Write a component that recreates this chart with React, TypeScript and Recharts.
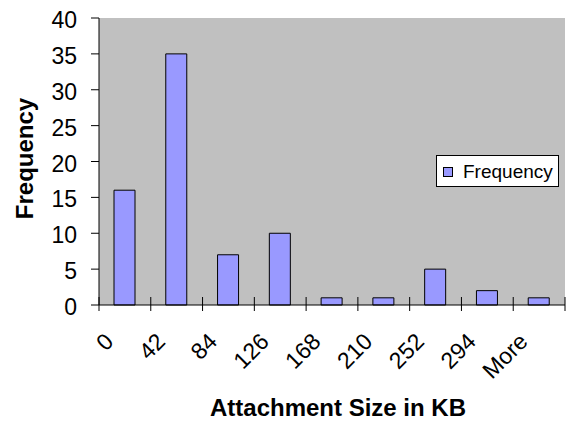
import { BarChart, Bar, XAxis, YAxis, CartesianGrid, Legend } from 'recharts'

// histogram bins and their counts
const bins = ['0', '42', '84', '126', '168', '210', '252', '294', 'More']
const frequency = [16, 35, 7, 10, 1, 1, 5, 2, 1]
const yTicks = [0, 5, 10, 15, 20, 25, 30, 35, 40]

const data = bins.map((bin, i) => ({ bin, Frequency: frequency[i] }))

const FONT = '"Liberation Sans", Arial, sans-serif'
const BAR_FILL = '#9999FF'

// Excel-style category ticks: cross marks on the bin boundaries plus a rotated label
const BinTick = (props: any) => {
  const { x, y, payload, index, width } = props
  const half = payload.offset || width / bins.length / 2
  const lx = x - 10
  const ly = y + 38
  return (
    <g>
      <line x1={x - half} x2={x - half} y1={y - 8} y2={y + 6} stroke="#000" />
      {index === bins.length - 1 && (
        <line x1={x + half} x2={x + half} y1={y - 8} y2={y + 6} stroke="#000" />
      )}
      <text
        x={lx}
        y={ly}
        textAnchor="end"
        fontSize={23}
        fontFamily={FONT}
        fill="#000"
        transform={`rotate(-45 ${lx} ${ly})`}
      >
        {payload.value}
      </text>
    </g>
  )
}

// value tick on the left axis, nudged down a little like Excel does
const CountTick = (props: any) => {
  const { x, y, payload } = props
  return (
    <text x={x} y={y + 10} textAnchor="end" fontSize={23} fontFamily={FONT} fill="#000">
      {payload.value}
    </text>
  )
}

const LegendBox = () => (
  <div
    style={{
      boxSizing: 'border-box',
      width: 123,
      height: 32,
      border: '1px solid #000',
      background: '#fff',
      position: 'relative',
      fontFamily: FONT,
    }}
  >
    <span
      style={{
        position: 'absolute',
        left: 6,
        top: 11,
        width: 8,
        height: 8,
        border: '1px solid #000',
        background: BAR_FILL,
      }}
    />
    <span
      style={{
        position: 'absolute',
        left: 26,
        top: 6,
        fontSize: 19,
        lineHeight: '19px',
        color: '#000',
        whiteSpace: 'nowrap',
      }}
    >
      Frequency
    </span>
  </div>
)

export default function App() {
  return (
    <div style={{ position: 'absolute', left: 0, top: 0, background: '#fff' }}>
      <BarChart
        width={572}
        height={421}
        data={data}
        margin={{ top: 18, right: 7, left: 0, bottom: 0 }}
      >
        <CartesianGrid fill="#C0C0C0" horizontal={false} vertical={false} />
        {/* gray frame on the top and right of the plot area */}
        <XAxis xAxisId="top" orientation="top" dataKey="bin" height={0} tick={false} tickLine={false} axisLine={{ stroke: '#808080' }} />
        <YAxis yAxisId="right" orientation="right" width={0} domain={[0, 40]} tick={false} tickLine={false} axisLine={{ stroke: '#808080' }} />
        <XAxis
          dataKey="bin"
          height={116}
          interval={0}
          tickSize={0}
          tickMargin={0}
          tickLine={false}
          axisLine={{ stroke: '#000' }}
          tick={<BinTick />}
          label={({ viewBox }: any) => (
            <text
              x={viewBox.x + viewBox.width / 2 + 6}
              y={viewBox.y + 111}
              textAnchor="middle"
              fontSize={24}
              fontWeight="bold"
              fontFamily={FONT}
              fill="#000"
            >
              Attachment Size in KB
            </text>
          )}
        />
        <YAxis
          width={99}
          domain={[0, 40]}
          ticks={yTicks}
          interval={0}
          tickSize={8}
          tickMargin={14}
          axisLine={{ stroke: '#000' }}
          tickLine={{ stroke: '#000' }}
          tick={<CountTick />}
          label={({ viewBox }: any) => {
            const cx = viewBox.x + 33
            const cy = viewBox.y + viewBox.height / 2 - 3
            return (
              <text
                x={cx}
                y={cy}
                textAnchor="middle"
                fontSize={24}
                fontWeight="bold"
                fontFamily={FONT}
                fill="#000"
                transform={`rotate(-90 ${cx} ${cy})`}
              >
                Frequency
              </text>
            )
          }}
        />
        <Legend
          layout="horizontal"
          verticalAlign="middle"
          align="center"
          wrapperStyle={{ left: 436, top: 155, width: 123, height: 32 }}
          content={<LegendBox />}
        />
        <Bar dataKey="Frequency" barSize={21} fill={BAR_FILL} stroke="#000" strokeWidth={1} isAnimationActive={false} />
      </BarChart>
    </div>
  )
}
